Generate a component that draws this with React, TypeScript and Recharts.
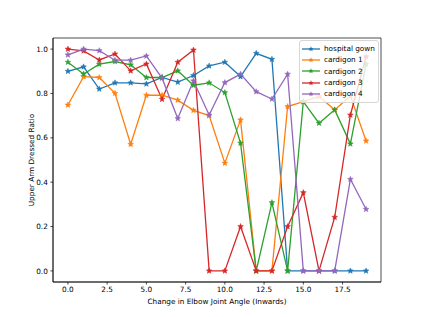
import { Line, LineChart, ReferenceArea, XAxis, YAxis } from "recharts";

const ANGLES = [0, 1, 2, 3, 4, 5, 6, 7, 8, 9, 10, 11, 12, 13, 14, 15, 16, 17, 18, 19];

const HOSPITAL_GOWN = [0.9, 0.92, 0.82, 0.848, 0.848, 0.843, 0.872, 0.851, 0.881, 0.924, 0.941, 0.876, 0.981, 0.954, 0, 0, 0, 0, 0, 0];
const CARDIGON_1 = [0.748, 0.876, 0.872, 0.801, 0.571, 0.792, 0.792, 0.77, 0.724, 0.7, 0.486, 0.681, 0, 0, 0.741, 0.763, 0.786, 0.726, 0.789, 0.586];
const CARDIGON_2 = [0.941, 0.888, 0.932, 0.944, 0.929, 0.872, 0.872, 0.902, 0.837, 0.848, 0.804, 0.576, 0, 0.308, 0, 0.763, 0.666, 0.726, 0.573, 0.932];
const CARDIGON_3 = [1.0, 0.992, 0.951, 0.978, 0.902, 0.933, 0.774, 0.941, 0.996, 0, 0, 0.2, 0, 0, 0.2, 0.353, 0, 0.242, 0.703, 0.966];
const CARDIGON_4 = [0.974, 1.0, 0.993, 0.95, 0.95, 0.969, 0.869, 0.687, 0.857, 0.703, 0.849, 0.887, 0.808, 0.775, 0.887, 0, 0, 0, 0.413, 0.278];

const X_TICKS = [0, 2.5, 5, 7.5, 10, 12.5, 15, 17.5];
const Y_TICKS = [0, 0.2, 0.4, 0.6, 0.8, 1.0];
const X_DOMAIN = [-0.95, 19.95];
const Y_DOMAIN = [-0.05, 1.05];

const SERIES = [
  { key: "gown", name: "hospital gown", color: "#1f77b4", values: HOSPITAL_GOWN },
  { key: "c1", name: "cardigon 1", color: "#ff7f0e", values: CARDIGON_1 },
  { key: "c2", name: "cardigon 2", color: "#2ca02c", values: CARDIGON_2 },
  { key: "c3", name: "cardigon 3", color: "#d62728", values: CARDIGON_3 },
  { key: "c4", name: "cardigon 4", color: "#9467bd", values: CARDIGON_4 },
];

const data = ANGLES.map((a, i) => {
  const row: Record<string, number> = { angle: a };
  SERIES.forEach((s) => (row[s.key] = s.values[i]));
  return row;
});

const FONT = "'DejaVu Sans', sans-serif";
const FONT_SIZE = 7.3;

function starPoints(cx: number, cy: number, ro: number, ri: number) {
  const pts: string[] = [];
  for (let k = 0; k < 10; k++) {
    const r = k % 2 === 0 ? ro : ri;
    const a = -Math.PI / 2 + (k * Math.PI) / 5;
    pts.push(`${cx + r * Math.cos(a)},${cy + r * Math.sin(a)}`);
  }
  return pts.join(" ");
}

function Star({ cx, cy, color }: { cx?: number; cy?: number; color: string }) {
  if (cx == null || cy == null) return null;
  return <polygon points={starPoints(cx, cy, 3, 1.3)} fill={color} stroke={color} strokeWidth={0.5} />;
}

// matplotlib-style legend box, upper right of the axes
function LegendBox() {
  return (
    <div
      style={{
        position: "absolute",
        top: 40,
        left: 299,
        background: "rgba(255,255,255,0.8)",
        border: "1px solid #d6d6d6",
        borderRadius: 3,
        padding: "2px 3px 2px 2px",
        fontFamily: FONT,
        fontSize: FONT_SIZE,
        color: "#000",
        lineHeight: "11.35px",
      }}
    >
      {SERIES.map((s) => (
        <div key={s.key} style={{ display: "flex", alignItems: "center", whiteSpace: "nowrap" }}>
          <svg width={18} height={8} style={{ marginRight: 4, flexShrink: 0 }}>
            <line x1={0} y1={4} x2={18} y2={4} stroke={s.color} strokeWidth={1.3} />
            <polygon points={starPoints(9, 4, 2.8, 1.2)} fill={s.color} />
          </svg>
          <span>{s.name}</span>
        </div>
      ))}
    </div>
  );
}

export default function App() {
  const tickStyle = { fontFamily: FONT, fontSize: FONT_SIZE, fill: "#000" };
  return (
    <div style={{ position: "absolute", left: 0, top: 0, width: 423, height: 317, background: "#fff" }}>
      <LineChart width={423} height={317} data={data} margin={{ top: 38, right: 42, bottom: 0, left: 0 }}>
        <XAxis
          dataKey="angle"
          type="number"
          domain={X_DOMAIN}
          ticks={X_TICKS}
          tickFormatter={(v: number) => v.toFixed(1)}
          tick={tickStyle}
          tickSize={2.6}
          tickMargin={2.6}
          height={35}
          stroke="#000"
          strokeWidth={0.7}
          allowDataOverflow
          label={{ value: "Change in Elbow Joint Angle (Inwards)", position: "insideBottom", offset: 13, style: tickStyle }}
        />
        <YAxis
          type="number"
          domain={Y_DOMAIN}
          ticks={Y_TICKS}
          tickFormatter={(v: number) => v.toFixed(1)}
          tick={tickStyle}
          tickSize={2.6}
          tickMargin={2.6}
          width={53}
          stroke="#000"
          strokeWidth={0.7}
          allowDataOverflow
          label={{ value: "Upper Arm Dressed Ratio", angle: -90, position: "insideLeft", offset: 31, style: { ...tickStyle, textAnchor: "middle" } }}
        />
        <ReferenceArea
          x1={X_DOMAIN[0]}
          x2={X_DOMAIN[1]}
          y1={Y_DOMAIN[0]}
          y2={Y_DOMAIN[1]}
          fill="none"
          stroke="#000"
          strokeWidth={0.7}
          ifOverflow="visible"
        />
        {SERIES.map((s) => (
          <Line
            key={s.key}
            dataKey={s.key}
            name={s.name}
            stroke={s.color}
            strokeWidth={1.3}
            dot={(p: any) => <Star key={`${s.key}-${p.index}`} cx={p.cx} cy={p.cy} color={s.color} />}
            activeDot={false}
            isAnimationActive={false}
          />
        ))}
      </LineChart>
      <LegendBox />
    </div>
  );
}
